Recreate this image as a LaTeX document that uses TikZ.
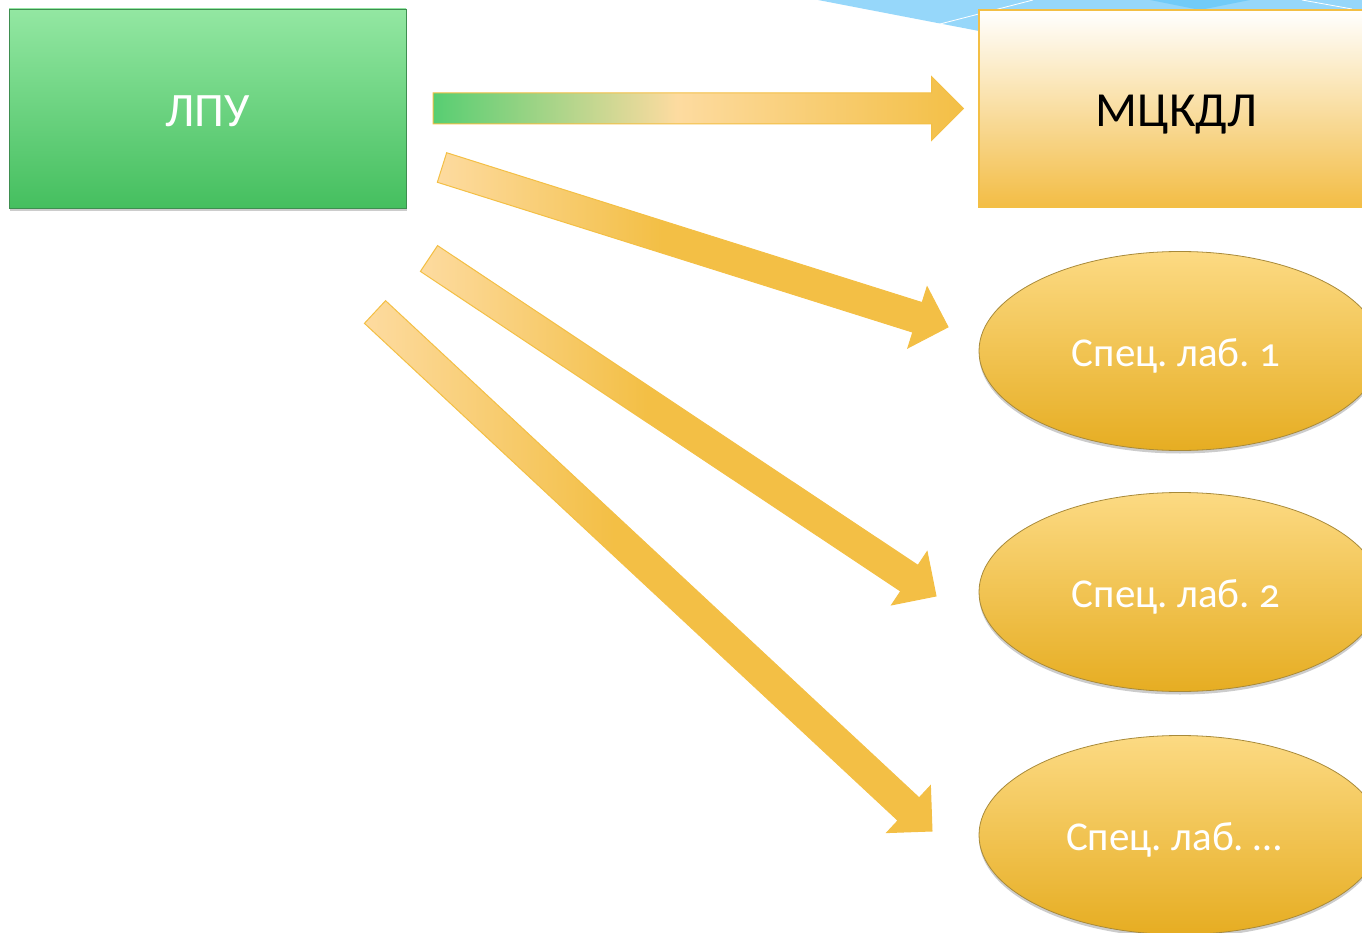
\documentclass[tikz,border=0pt]{standalone}
\usepackage{fontspec}
\setmainfont{Carlito}
\newfontfamily\labfont[Numbers=OldStyle]{Carlito}
\usetikzlibrary{calc,shadows,shapes.geometric}
\definecolor{lpuTop}{HTML}{93E7A2}
\definecolor{lpuBot}{HTML}{45BF5F}
\definecolor{lpuLine}{HTML}{3E8E50}
\definecolor{gold}{HTML}{F3BF45}
\definecolor{goldLight}{HTML}{FDDBA0}
\definecolor{mcTop}{HTML}{FFFFFF}
\definecolor{mcMid}{HTML}{FDDFA6}
\definecolor{mcBot}{HTML}{F3BD45}
\definecolor{ellTop}{HTML}{FCDA83}
\definecolor{ellBot}{HTML}{E6AD22}
\definecolor{ellLine}{HTML}{A88A3A}
\definecolor{arrGreen}{HTML}{57CE72}
\definecolor{skyA}{HTML}{96D7FA}
\definecolor{skyB}{HTML}{71CBF8}
\pgfdeclarehorizontalshading{greenarrow}{100bp}{color(0bp)=(arrGreen); color(25bp)=(arrGreen); color(48bp)=(goldLight); color(75bp)=(gold); color(100bp)=(gold)}
\pgfdeclarehorizontalshading{goldarrow}{100bp}{color(0bp)=(goldLight); color(25bp)=(goldLight); color(47bp)=(gold); color(100bp)=(gold)}
\newcommand{\fatarrow}[3]{%
  \coordinate (fa-b) at ($(#2)!32pt!(#1)$);
  \shadedraw[shading=#3, arrowline]
    ($(#1)!15.5pt!90:(#2)$) -- ($(fa-b)!15.5pt!90:(#2)$) -- ($(fa-b)!32pt!90:(#2)$) -- (#2)
    -- ($(fa-b)!32pt!-90:(#2)$) -- ($(fa-b)!15.5pt!-90:(#2)$) -- ($(#1)!15.5pt!-90:(#2)$) -- cycle;
}
\tikzset{
  arrowline/.style={draw=gold, line width=1pt, line join=miter},
  lpubox/.style={rectangle, minimum width=397pt, minimum height=199pt, inner sep=0pt,
    top color=lpuTop, bottom color=lpuBot, draw=lpuLine, line width=0.8pt,
    drop shadow={opacity=0.4, shadow xshift=1pt, shadow yshift=-3pt},
    text=white, font=\fontsize{48}{58}\selectfont, text height=36pt, text depth=0pt},
  mcbox/.style={rectangle, minimum width=404pt, minimum height=197pt, inner sep=0pt,
    top color=mcTop, middle color=mcMid, bottom color=mcBot, draw=gold, line width=1.2pt,
    text=black, font=\fontsize{49}{59}\selectfont, text height=36pt, text depth=0pt},
  labell/.style={ellipse, minimum width=402pt, minimum height=199pt, inner sep=0pt,
    top color=ellTop, bottom color=ellBot, draw=ellLine, line width=0.8pt,
    drop shadow={opacity=0.4, shadow xshift=0pt, shadow yshift=-3pt},
    text=white, font=\labfont\fontsize{41}{49}\selectfont, text height=31pt, text depth=0pt},
}
\begin{document}
\begin{tikzpicture}[x=1pt,y=-1pt]
\useasboundingbox (0,0) rectangle (1362,933);
\clip (0,0) rectangle (1362,933);
% background theme decoration
\fill[skyA] (818,0) -- (979,31) -- (979,0) -- cycle;
\fill[skyA] (979,0) rectangle (1362,14);
\fill[skyB] (1150,0) -- (1200,10) -- (1250,0) -- cycle;
\draw[white, line width=0.8pt] (940,24) -- (1033,0);
\draw[white, line width=0.8pt] (1302,0) -- (1352,9);
% nodes
\node[lpubox] (lpu) at (207.5,108.5) {ЛПУ};
\node[mcbox] (mc) at (1181,108.5) {\hspace*{-9pt}МЦКДЛ};
\node[labell] (l1) at (1180,351) {\hspace*{-8pt}Спец.\ лаб.\ 1};
\node[labell] (l2) at (1180,592) {\hspace*{-8pt}Спец.\ лаб.\ 2};
\node[labell] (l3) at (1180,835) {\hspace*{-12pt}Спец.\ лаб.\ \dots};
% arrow end points
\coordinate (t0) at (433,108.5);  \coordinate (h0) at (963.5,108.5);
\coordinate (t1) at (442,167.5);  \coordinate (h1) at (948,327);
\coordinate (t2) at (429,258.5);  \coordinate (h2) at (936,596);
\coordinate (t3) at (375,312);    \coordinate (h3) at (932,831);
\fatarrow{t0}{h0}{greenarrow}
\fatarrow{t1}{h1}{goldarrow}
\fatarrow{t2}{h2}{goldarrow}
\fatarrow{t3}{h3}{goldarrow}
\end{tikzpicture}
\end{document}
